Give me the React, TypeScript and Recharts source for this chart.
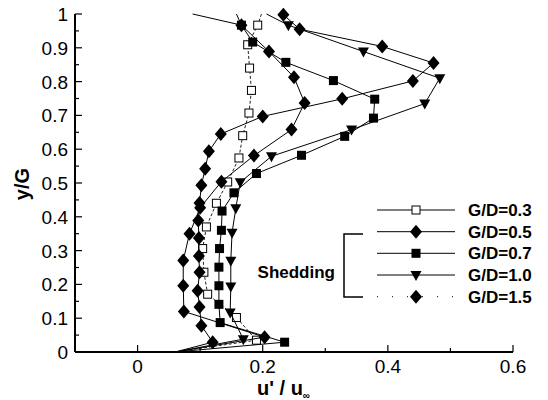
import React from 'react';
import { ScatterChart, Scatter, XAxis, YAxis, Label, Customized } from 'recharts';

// ---------- data ----------
const seriesNames = ['G/D=0.3', 'G/D=0.5', 'G/D=0.7', 'G/D=1.0', 'G/D=1.5'];

const xTicks = [0, 0.1, 0.2, 0.3, 0.4, 0.5, 0.6];
const xTickLabels = ['0', '', '0.2', '', '0.4', '', '0.6'];
const yTicks = [0, 0.05, 0.1, 0.15, 0.2, 0.25, 0.3, 0.35, 0.4, 0.45, 0.5, 0.55, 0.6, 0.65, 0.7, 0.75, 0.8, 0.85, 0.9, 0.95, 1];
const yTickLabels = ['0', '', '0.1', '', '0.2', '', '0.3', '', '0.4', '', '0.5', '', '0.6', '', '0.7', '', '0.8', '', '0.9', '', '1'];

const gd03Y = [1.0, 0.967, 0.909, 0.84, 0.774, 0.707, 0.64, 0.574, 0.503, 0.44, 0.37, 0.306, 0.236, 0.171, 0.102, 0.035, 0];
const gd03U = [0.198, 0.192, 0.176, 0.179, 0.182, 0.178, 0.168, 0.162, 0.144, 0.126, 0.11, 0.104, 0.106, 0.112, 0.158, 0.19, 0.06];

const gd05Y = [1.0, 0.967, 0.889, 0.813, 0.737, 0.658, 0.581, 0.504, 0.427, 0.35, 0.271, 0.196, 0.12, 0.044, 0];
const gd05U = [0.158, 0.166, 0.21, 0.25, 0.267, 0.246, 0.186, 0.134, 0.1, 0.083, 0.073, 0.073, 0.074, 0.203, 0.06];

const gd07Y = [1.0, 0.967, 0.917, 0.857, 0.803, 0.748, 0.692, 0.638, 0.582, 0.528, 0.471, 0.417, 0.36, 0.306, 0.251, 0.196, 0.141, 0.087, 0.029, 0];
const gd07U = [0.088, 0.166, 0.184, 0.237, 0.313, 0.379, 0.377, 0.331, 0.262, 0.19, 0.154, 0.135, 0.134, 0.131, 0.13, 0.13, 0.13, 0.132, 0.235, 0.06];

const gd10Y = [1.0, 0.967, 0.889, 0.81, 0.735, 0.658, 0.579, 0.502, 0.425, 0.353, 0.27, 0.194, 0.117, 0.038, 0];
const gd10U = [0.206, 0.241, 0.361, 0.483, 0.459, 0.342, 0.214, 0.164, 0.157, 0.151, 0.149, 0.149, 0.148, 0.169, 0.06];

const gd15Y = [0.998, 0.955, 0.904, 0.855, 0.802, 0.749, 0.697, 0.645, 0.594, 0.542, 0.493, 0.441, 0.389, 0.337, 0.284, 0.236, 0.181, 0.133, 0.078, 0.029, 0];
const gd15U = [0.233, 0.259, 0.391, 0.473, 0.44, 0.327, 0.2, 0.133, 0.114, 0.108, 0.102, 0.099, 0.097, 0.098, 0.098, 0.099, 0.096, 0.099, 0.102, 0.12, 0.06];

const zip = (u: number[], y: number[]) => u.map((v, i) => ({ u: v, y: y[i] }));

// ---------- styles ----------
const FONT = '"Liberation Sans", Arial, Helvetica, sans-serif';
type Kind = 'openSquare' | 'diamond' | 'square' | 'triangle';

const drawMarker = (kind: Kind, cx: number, cy: number, key?: string) => {
  switch (kind) {
    case 'openSquare':
      return <rect key={key} x={cx - 4} y={cy - 4} width={8} height={8} fill="#fff" stroke="#000" strokeWidth={1} />;
    case 'square':
      return <rect key={key} x={cx - 4.5} y={cy - 4.5} width={9} height={9} fill="#000" />;
    case 'triangle':
      return <polygon key={key} points={`${cx - 5.5},${cy - 4} ${cx + 5.5},${cy - 4} ${cx},${cy + 6}`} fill="#000" />;
    default:
      return <polygon key={key} points={`${cx},${cy - 7} ${cx + 6},${cy} ${cx},${cy + 7} ${cx - 6},${cy}`} fill="#000" />;
  }
};

const makeShape = (kind: Kind) => (props: any) => {
  const { cx, cy, payload } = props;
  if (payload && (payload.y === 0 || payload.y === 1)) return <g />;
  return drawMarker(kind, cx, cy);
};

const series = [
  { name: seriesNames[0], data: zip(gd03U, gd03Y), kind: 'openSquare' as Kind, dash: '3 2', stroke: '#222' },
  { name: seriesNames[1], data: zip(gd05U, gd05Y), kind: 'diamond' as Kind, dash: undefined, stroke: '#000' },
  { name: seriesNames[2], data: zip(gd07U, gd07Y), kind: 'square' as Kind, dash: undefined, stroke: '#000' },
  { name: seriesNames[3], data: zip(gd10U, gd10Y), kind: 'triangle' as Kind, dash: undefined, stroke: '#000' },
  { name: seriesNames[4], data: zip(gd15U, gd15Y), kind: 'diamond' as Kind, dash: undefined, stroke: '#000' },
];

const legendDash: (string | undefined)[] = [undefined, undefined, undefined, undefined, '1 14'];

const XTick = (props: any) => {
  const { x, y, payload, index } = props;
  const idx = xTicks.indexOf(payload.value);
  const label = idx >= 0 ? xTickLabels[idx] : '';
  const major = label !== '';
  return (
    <g key={`xt${index}`}>
      <line x1={x} x2={x} y1={y} y2={y - (major ? 7 : 4)} stroke="#000" strokeWidth={1.2} />
      {major && (
        <text x={x} y={y + 21} textAnchor="middle" fontSize={19} fontFamily={FONT} fill="#000">
          {label}
        </text>
      )}
    </g>
  );
};

const YTick = (props: any) => {
  const { x, y, payload, index } = props;
  const idx = yTicks.indexOf(payload.value);
  const label = idx >= 0 ? yTickLabels[idx] : '';
  const major = label !== '';
  return (
    <g key={`yt${index}`}>
      <line x1={x} x2={x + (major ? 7 : 4)} y1={y} y2={y} stroke="#000" strokeWidth={1.2} />
      {major && (
        <text x={x - 7} y={y + 7} textAnchor="end" fontSize={19} fontFamily={FONT} fill="#000">
          {label}
        </text>
      )}
    </g>
  );
};

const LegendBlock = () => {
  const rowY = [210, 231.7, 253.3, 275, 296.7];
  return (
    <g>
      {series.map((s, i) => (
        <g key={s.name}>
          <line x1={377} x2={455} y1={rowY[i]} y2={rowY[i]} stroke="#000" strokeWidth={1} strokeDasharray={legendDash[i]} />
          {drawMarker(s.kind, 416, rowY[i])}
          <text x={468} y={rowY[i] + 6} fontSize={17} fontWeight="bold" fontFamily={FONT} fill="#000">
            {s.name}
          </text>
        </g>
      ))}
      <polyline points="363,234 344,234 344,297 363,297" fill="none" stroke="#000" strokeWidth={1.5} />
      <text x={335} y={278} textAnchor="end" fontSize={17} fontWeight="bold" fontFamily={FONT} fill="#000">
        Shedding
      </text>
    </g>
  );
};

export default function App() {
  return (
    <div style={{ margin: '-8px 0 0 -8px', width: 548, height: 400 }}>
      <ScatterChart width={548} height={400} margin={{ top: 14, right: 35, bottom: 0, left: 0 }}>
        <XAxis
          type="number"
          dataKey="u"
          domain={[-0.1, 0.6]}
          ticks={xTicks}
          interval={0}
          height={48}
          axisLine={{ stroke: '#000', strokeWidth: 2 }}
          tickLine={false}
          tickSize={0}
          tickMargin={0}
          tick={<XTick />}
        >
          <Label
            content={() => (
              <text x={257} y={395} fontSize={20} fontWeight="bold" fontFamily={FONT} fill="#000">
                u' / u<tspan fontSize={10} dy={4}>∞</tspan>
              </text>
            )}
          />
        </XAxis>
        <YAxis
          type="number"
          dataKey="y"
          domain={[0, 1]}
          ticks={yTicks}
          interval={0}
          width={75}
          axisLine={{ stroke: '#000', strokeWidth: 2 }}
          tickLine={false}
          tickSize={0}
          tickMargin={0}
          tick={<YTick />}
        >
          <Label
            content={() => (
              <text x={29} y={184} transform="rotate(-90 29 184)" textAnchor="middle" fontSize={20} fontWeight="bold" fontFamily={FONT} fill="#000">
                y/G
              </text>
            )}
          />
        </YAxis>
        {series.map((s) => (
          <Scatter
            key={s.name}
            name={s.name}
            data={s.data}
            fill="#000"
            line={{ stroke: s.stroke, strokeWidth: 1, strokeDasharray: s.dash }}
            lineType="joint"
            shape={makeShape(s.kind)}
            isAnimationActive={false}
          />
        ))}
        <Customized component={LegendBlock} />
      </ScatterChart>
    </div>
  );
}
